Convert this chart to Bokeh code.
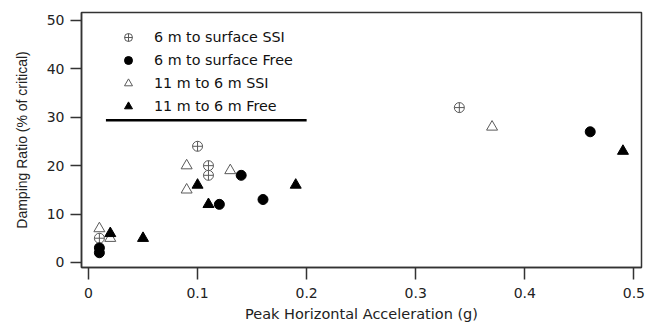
from bokeh.plotting import figure
from bokeh.models import Legend, LegendItem, FixedTicker
from bokeh.embed import file_html
from bokeh.resources import INLINE

# data
ssi6_x = [0.01, 0.10, 0.11, 0.11, 0.34]
ssi6_y = [5, 24, 20, 18, 32]
free6_x = [0.01, 0.01, 0.12, 0.14, 0.16, 0.46]
free6_y = [3, 2, 12, 18, 13, 27]
ssi11_x = [0.01, 0.02, 0.09, 0.09, 0.13, 0.37]
ssi11_y = [7, 5, 20, 15, 19, 28]
free11_x = [0.02, 0.05, 0.10, 0.11, 0.19, 0.49]
free11_y = [6, 5, 16, 12, 16, 23]
rule_x = [0.016, 0.2]
rule_y = [29.4, 29.4]

x_ticks = [0, 0.1, 0.2, 0.3, 0.4, 0.5]
x_tick_labels = ["0", "0.1", "0.2", "0.3", "0.4", "0.5"]
y_ticks = [0, 10, 20, 30, 40, 50]

FONT = "DejaVu Sans"

p = figure(width=658, height=332, output_backend="svg", toolbar_location=None,
           x_range=(-0.0064, 0.507), y_range=(-1.05, 51.65),
           min_border_left=81, min_border_right=17, min_border_top=12, min_border_bottom=65)
p.grid.visible = False
p.outline_line_color = "#333333"
p.outline_line_width = 1.5

grey = "#5a5a5a"
r1 = p.scatter(ssi6_x, ssi6_y, marker="circle_cross", size=10, fill_color="white",
               line_color=grey, line_width=1)
r2 = p.scatter(free6_x, free6_y, marker="circle", size=10, fill_color="black",
               line_color="black")
r3 = p.scatter(ssi11_x, ssi11_y, marker="triangle", size=11, fill_color="white",
               line_color=grey, line_width=1)
r4 = p.scatter(free11_x, free11_y, marker="triangle", size=11, fill_color="black",
               line_color="black")
p.line(rule_x, rule_y, line_color="black", line_width=2.5)

for ax in (p.xaxis[0], p.yaxis[0]):
    ax.minor_tick_line_color = None
    ax.major_tick_in = 0
    ax.major_tick_line_color = "#333333"
    ax.major_tick_line_width = 1.5
    ax.axis_line_color = "#333333"
    ax.axis_line_width = 1.5
    ax.major_label_text_font = FONT
    ax.major_label_text_font_size = "14px"
    ax.major_label_text_color = "#222222"
    ax.axis_label_text_font = FONT
    ax.axis_label_text_font_size = "14.5px"
    ax.axis_label_text_font_style = "normal"
    ax.axis_label_text_color = "#222222"

p.xaxis.ticker = FixedTicker(ticks=x_ticks)
p.xaxis.major_label_overrides = {t: l for t, l in zip(x_ticks, x_tick_labels)}
p.xaxis.major_tick_out = 12
p.xaxis.major_label_standoff = 8
p.xaxis.axis_label = "Peak Horizontal Acceleration (g)"
p.xaxis.axis_label_standoff = 5

p.yaxis.ticker = FixedTicker(ticks=y_ticks)
p.yaxis.major_tick_out = 11
p.yaxis.major_label_standoff = 6
p.yaxis.axis_label = "Damping Ratio (% of critical)"
p.yaxis.axis_label_text_font = "Liberation Sans"
p.yaxis.axis_label_text_font_size = "14px"
p.yaxis.axis_label_standoff = 14

legend = Legend(items=[
    LegendItem(label="6 m to surface SSI", renderers=[r1]),
    LegendItem(label="6 m to surface Free", renderers=[r2]),
    LegendItem(label="11 m to 6 m SSI", renderers=[r3]),
    LegendItem(label="11 m to 6 m Free", renderers=[r4]),
], location=(37, 151), padding=0, margin=0, spacing=3,
   glyph_width=20, glyph_height=20, label_height=20, label_standoff=16,
   border_line_color=None, background_fill_alpha=0,
   label_text_font=FONT, label_text_font_size="14.3px", label_text_color="#111111")
p.add_layout(legend)

open("out.html", "w").write(file_html(p, INLINE))
